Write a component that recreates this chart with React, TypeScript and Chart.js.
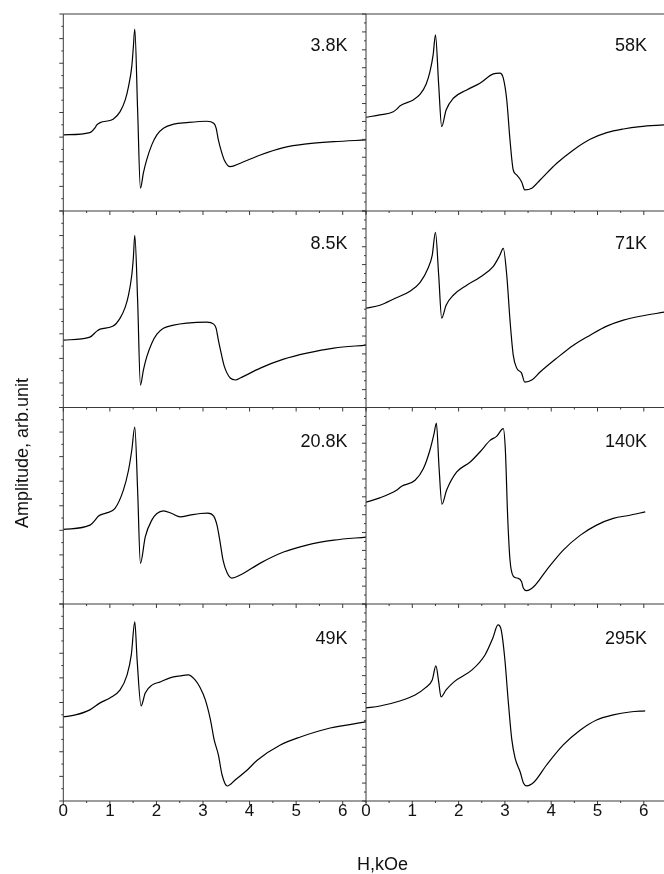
import React, { useEffect, useRef } from "react";
import { Chart, registerables } from "chart.js";

Chart.register(...registerables);

// ---------- data ----------
const tempLabels = ["3.8K", "8.5K", "20.8K", "49K", "58K", "71K", "140K", "295K"];
const xTickLabels = ["0", "1", "2", "3", "4", "5", "6"];
const yTitle = "Amplitude, arb.unit";
const xTitle = "H,kOe";

const h38 = [0, 0.57, 0.68, 0.72, 0.79, 1.07, 1.22, 1.33, 1.40, 1.47, 1.505, 1.535, 1.596, 1.656, 1.72, 1.79, 1.90, 2.01, 2.15, 2.37, 2.65, 3.08, 3.23, 3.28, 3.33, 3.385, 3.456, 3.585, 3.80, 4.23, 4.73, 5.23, 5.81, 6.5];
const a38 = [6.18, 6.37, 6.75, 6.99, 7.18, 7.46, 8.07, 9.02, 10.1, 11.73, 13.36, 14.77, 8.2, 1.85, 3.09, 4.15, 5.37, 6.18, 6.72, 7.05, 7.18, 7.29, 7.13, 6.75, 5.77, 4.96, 4.15, 3.60, 3.88, 4.55, 5.15, 5.45, 5.63, 5.77];

const h85 = [0, 0.57, 0.72, 0.79, 1.07, 1.22, 1.33, 1.40, 1.47, 1.505, 1.535, 1.596, 1.656, 1.72, 1.79, 1.90, 2.01, 2.15, 2.37, 2.65, 3.08, 3.23, 3.28, 3.33, 3.385, 3.456, 3.585, 3.70, 3.80, 4.23, 4.73, 5.23, 5.81, 6.5];
const a85 = [5.49, 5.73, 6.22, 6.38, 6.63, 7.28, 8.17, 9.15, 10.77, 12.24, 14.02, 8.74, 1.83, 3.05, 4.1, 5.24, 5.98, 6.46, 6.71, 6.87, 6.95, 6.79, 6.46, 5.49, 4.51, 3.37, 2.4, 2.24, 2.4, 3.21, 3.94, 4.43, 4.84, 5.08];

const h208 = [0, 0.574, 0.70, 0.75, 0.93, 1.11, 1.29, 1.40, 1.47, 1.535, 1.596, 1.656, 1.76, 1.90, 2.01, 2.15, 2.33, 2.51, 2.72, 2.94, 3.10, 3.23, 3.30, 3.36, 3.43, 3.52, 3.62, 3.80, 4.23, 4.73, 5.23, 5.81, 6.5];
const a208 = [6.07, 6.42, 6.91, 7.15, 7.42, 7.78, 9.27, 10.89, 12.52, 14.41, 9.27, 3.3, 5.47, 6.83, 7.37, 7.59, 7.37, 7.10, 7.24, 7.37, 7.4, 7.15, 6.42, 5.2, 3.58, 2.52, 2.11, 2.36, 3.33, 4.23, 4.8, 5.2, 5.45];

const h49 = [0, 0.26, 0.57, 0.79, 1.0, 1.22, 1.37, 1.46, 1.535, 1.585, 1.67, 1.76, 1.91, 2.08, 2.29, 2.51, 2.68, 2.83, 2.94, 3.05, 3.16, 3.24, 3.33, 3.41, 3.52, 3.69, 3.95, 4.17, 4.66, 5.09, 5.73, 6.5];
const a49 = [6.83, 6.99, 7.40, 7.97, 8.37, 9.02, 10.24, 11.87, 14.55, 11.46, 7.72, 8.78, 9.43, 9.67, 10.0, 10.16, 10.24, 9.84, 9.19, 8.21, 6.59, 4.96, 3.74, 2.11, 1.22, 1.71, 2.52, 3.33, 4.55, 5.2, 5.93, 6.42];

const h58 = [0, 0.30, 0.59, 0.67, 0.73, 1.02, 1.17, 1.30, 1.38, 1.45, 1.50, 1.57, 1.635, 1.73, 1.885, 2.175, 2.46, 2.75, 2.89, 2.965, 3.04, 3.11, 3.18, 3.255, 3.36, 3.43, 3.58, 3.76, 4.12, 4.48, 4.84, 5.20, 5.56, 5.92, 6.44];
const a58 = [10.47, 10.73, 11.09, 11.4, 11.73, 12.4, 13.04, 14.19, 15.53, 17.43, 19.66, 14.08, 9.42, 11.28, 12.59, 13.52, 14.27, 15.31, 15.39, 14.83, 12.40, 7.93, 4.58, 4.02, 3.27, 2.35, 2.54, 3.46, 5.33, 6.82, 8.01, 8.75, 9.16, 9.42, 9.61];

const h71 = [0, 0.30, 0.63, 0.95, 1.17, 1.34, 1.43, 1.50, 1.57, 1.635, 1.73, 1.885, 2.175, 2.46, 2.75, 2.89, 2.965, 3.04, 3.11, 3.18, 3.255, 3.36, 3.43, 3.58, 3.76, 4.12, 4.48, 4.84, 5.20, 5.56, 5.92, 6.44];
const a71 = [11.12, 11.45, 12.23, 13.02, 14.02, 15.59, 17.04, 19.61, 14.8, 10.0, 11.45, 12.57, 13.69, 14.58, 15.81, 17.04, 17.82, 14.8, 9.78, 5.87, 4.41, 3.85, 2.85, 3.07, 3.97, 5.53, 6.98, 8.1, 9.11, 9.78, 10.22, 10.67];

const h140 = [0, 0.30, 0.66, 0.77, 1.06, 1.24, 1.38, 1.47, 1.52, 1.577, 1.64, 1.74, 1.96, 2.25, 2.46, 2.68, 2.82, 2.965, 3.01, 3.06, 3.11, 3.18, 3.29, 3.36, 3.40, 3.47, 3.62, 3.90, 4.26, 4.63, 4.98, 5.34, 5.70, 6.03];
const a140 = [11.4, 11.88, 12.74, 13.18, 13.85, 15.16, 17.21, 19.07, 20.26, 15.34, 11.17, 12.74, 14.78, 15.9, 17.02, 18.32, 18.77, 19.63, 17.21, 9.75, 4.92, 3.13, 2.87, 2.49, 1.75, 1.49, 1.93, 3.8, 6.03, 7.71, 8.83, 9.58, 9.94, 10.31];

const h295 = [0, 0.30, 0.73, 1.06, 1.28, 1.43, 1.51, 1.57, 1.62, 1.73, 1.90, 2.29, 2.57, 2.74, 2.85, 2.92, 3.0, 3.07, 3.15, 3.22, 3.33, 3.40, 3.47, 3.63, 3.90, 4.26, 4.63, 4.98, 5.34, 5.70, 6.03];
const a295 = [10.39, 10.61, 11.17, 11.84, 12.63, 13.52, 15.08, 13.3, 11.62, 12.4, 13.3, 14.64, 16.31, 18.21, 19.66, 19.1, 15.75, 11.28, 6.82, 4.8, 3.24, 2.01, 1.68, 2.12, 4.02, 6.26, 7.93, 9.05, 9.61, 9.94, 10.06];

const seriesH = [h38, h85, h208, h49, h58, h71, h140, h295];
const seriesA = [a38, a85, a208, a49, a58, a71, a140, a295];

// ---------- layout ----------
const W = 664;
const HGT = 874;
const COL_X = [
  [63.3, 366],
  [366, 664],
];
const COL_XMAX = [6.5, 6.436];
const COL_YMAX = [16, 22];
const ROW_Y = [14, 211, 407.5, 604, 801];
const LABEL_X = [347.5, 647];
const LABEL_DY = [32.5, 33, 35, 35];
const AXIS_COLOR = "#3a3a3a";
const FONT = '"Liberation Sans", Arial, sans-serif';

const framePlugin = {
  id: "frame",
  afterDraw(chart: any, _args: any, opts: any) {
    const { ctx, chartArea: ca, scales } = chart;
    const xs = scales.x;
    const ys = scales.y;
    ctx.save();
    ctx.strokeStyle = AXIS_COLOR;
    ctx.lineWidth = 1;
    ctx.beginPath();
    ctx.moveTo(ca.left, ca.top);
    ctx.lineTo(ca.left, ca.bottom);
    ctx.moveTo(ca.left, ca.bottom);
    ctx.lineTo(ca.right, ca.bottom);
    if (opts.row === 0) {
      ctx.moveTo(ca.left, ca.top);
      ctx.lineTo(ca.right, ca.top);
    }
    for (let k = 0; k * 0.5 <= xs.max + 1e-9; k++) {
      const v = k * 0.5;
      const px = xs.getPixelForValue(v);
      const len = k % 2 === 0 ? 4 : 2;
      ctx.moveTo(px, ca.bottom);
      ctx.lineTo(px, ca.bottom + len);
    }
    for (let v = 0; v <= ys.max + 1e-9; v += 1) {
      const py = ys.getPixelForValue(v);
      const len = v % 2 === 0 ? 4 : 2;
      ctx.moveTo(ca.left, py);
      ctx.lineTo(ca.left - len, py);
    }
    ctx.stroke();

    ctx.fillStyle = "#111";
    ctx.font = `18px ${FONT}`;
    ctx.textAlign = "right";
    ctx.textBaseline = "middle";
    ctx.fillText(opts.label, opts.labelX, ca.top + opts.labelDy);

    if (opts.row === 3) {
      ctx.font = `17px ${FONT}`;
      ctx.textAlign = "center";
      ctx.textBaseline = "middle";
      xTickLabels.forEach((t, i) => {
        const px = xs.getPixelForValue(i);
        ctx.fillText(t, px, ca.bottom + 10);
      });
    }

    if (opts.titles) {
      ctx.font = `18px ${FONT}`;
      ctx.textAlign = "center";
      ctx.textBaseline = "middle";
      ctx.fillText(xTitle, 382.5, 865);
      ctx.save();
      ctx.translate(23, 453);
      ctx.rotate(-Math.PI / 2);
      ctx.fillText(yTitle, 0, 0);
      ctx.restore();
    }
    ctx.restore();
  },
};

export default function App() {
  const refs = useRef<(HTMLCanvasElement | null)[]>([]);

  useEffect(() => {
    const charts: Chart[] = [];
    for (let i = 0; i < 8; i++) {
      const canvas = refs.current[i];
      if (!canvas) continue;
      const col = i < 4 ? 0 : 1;
      const row = i % 4;
      const [x0, x1] = COL_X[col];
      const y0 = ROW_Y[row];
      const y1 = ROW_Y[row + 1];
      const h = seriesH[i];
      const a = seriesA[i];
      const chart = new Chart(canvas, {
        type: "line",
        data: {
          datasets: [
            {
              data: h.map((x, j) => ({ x, y: a[j] })),
              borderColor: "#000",
              borderWidth: 1.2,
              pointRadius: 0,
              fill: false,
              cubicInterpolationMode: "monotone",
            },
          ],
        },
        options: {
          responsive: false,
          animation: false,
          devicePixelRatio: 1,
          events: [],
          layout: {
            padding: { left: x0, right: W - x1, top: y0, bottom: HGT - y1 },
          },
          scales: {
            x: { type: "linear", min: 0, max: COL_XMAX[col], display: false },
            y: { type: "linear", min: 0, max: COL_YMAX[col], display: false },
          },
          plugins: {
            legend: { display: false },
            tooltip: { enabled: false },
            // @ts-ignore
            frame: {
              row,
              label: tempLabels[i],
              labelX: LABEL_X[col],
              labelDy: LABEL_DY[row],
              titles: i === 0,
            },
          },
        } as any,
        plugins: [framePlugin],
      });
      charts.push(chart);
    }
    return () => charts.forEach((c) => c.destroy());
  }, []);

  return (
    <div
      style={{
        position: "absolute",
        left: 0,
        top: 0,
        width: W,
        height: HGT,
        background: "#fff",
        overflow: "hidden",
      }}
    >
      {Array.from({ length: 8 }).map((_, i) => (
        <canvas
          key={i}
          ref={(el) => {
            refs.current[i] = el;
          }}
          width={W}
          height={HGT}
          style={{ position: "absolute", left: 0, top: 0, width: W, height: HGT }}
        />
      ))}
    </div>
  );
}
